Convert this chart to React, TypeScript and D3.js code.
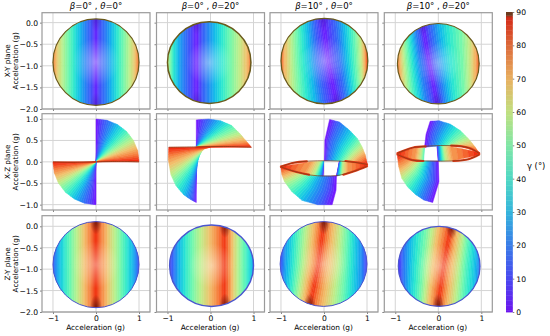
// App.tsx
import React, { useRef, useEffect } from 'react'
import * as d3 from 'd3'

// colour bar
const gammaStops = [0, 10, 20, 30, 40, 50, 60, 70, 80, 88.6, 89, 90]
const gammaColors = ['#6d14ee', '#4a48f0', '#3a7ce8', '#35b4dc', '#50d8c4', '#80e6a6', '#c0e080', '#e8b060', '#dc6a3a', '#d42a18', '#6e3a1e', '#6e3a1e']
// the clouds themselves are more saturated than the bar
const cloudColors = ['#7a10ff', '#4650fa', '#2880f5', '#14bcea', '#2ce8d0', '#70f8b0', '#bcf08c', '#f2c06c', '#f67c3c', '#f02c10', '#f02c10', '#7a3010']
const gammaTicks = [0, 10, 20, 30, 40, 50, 60, 70, 80, 90]

const betaLabels = ['0', '0', '10', '10']
const thetaLabels = ['0', '20', '0', '20']
const planeLabels = ['X-Y plane', 'X-Z plane', 'Z-Y plane']

const xTicks = [-1, 0, 1]
const yTicksDisc = [0, -0.5, -1, -1.5, -2]
const yTicksFan = [1, 0.5, 0, -0.5, -1]

// [cx, cy, rx, ry] in g
const xyDiscs = [[0, -0.915, 1, 1], [-0.03, -0.925, 0.97, 0.945], [0.01, -0.89, 1.01, 0.99], [0, -0.95, 0.95, 0.93]]
const zyDiscs = [[0, -0.895, 1, 1.005], [0.025, -0.92, 0.975, 0.95], [-0.01, -0.88, 1.01, 0.99], [0.02, -0.935, 0.95, 0.935]]
const xyRim = [1.2, 1.5, 1.2, 1.2]
const zyRim = [1, 1.4, 1, 1.2]

// how far the band moves at the top and bottom of the disc
const xyTilt = [[0, 0], [0, 0], [-0.12, 0.2], [-0.17, 0.18]]
const zyTilt = [[0, 0], [0, 0], [0.12, -0.21], [0.18, -0.13]]

// [x at mid height, gamma]
const xyStops = [
	[[-1.04, 90], [-0.97, 76], [-0.9, 68], [-0.75, 58], [-0.55, 44], [-0.35, 28], [-0.15, 14], [0, 3], [0.15, 14], [0.35, 28], [0.55, 44], [0.75, 58], [0.9, 68], [0.97, 76], [1.04, 90]],
	[[-1.04, 70], [-0.95, 55], [-0.85, 40], [-0.7, 25], [-0.5, 12], [-0.32, 2], [-0.15, 15], [0, 24], [0.2, 36], [0.45, 50], [0.7, 62], [0.88, 72], [0.96, 85], [1.04, 90]],
	[[-1.3, 90], [-1.02, 90], [-0.92, 72], [-0.75, 60], [-0.55, 46], [-0.3, 28], [-0.1, 12], [0.1, 2], [0.35, 15], [0.55, 32], [0.75, 50], [0.88, 62], [0.97, 75], [1.03, 90], [1.3, 90]],
	[[-1.3, 90], [-0.97, 85], [-0.88, 70], [-0.74, 55], [-0.58, 38], [-0.43, 22], [-0.2, 2], [0.04, 22], [0.27, 38], [0.58, 52], [0.74, 62], [0.89, 74], [0.97, 88], [1.3, 90]],
]
const zyStops = [
	[[-1.04, 5], [-0.95, 20], [-0.85, 30], [-0.7, 42], [-0.5, 56], [-0.3, 68], [-0.12, 80], [0, 88], [0.12, 80], [0.3, 68], [0.5, 56], [0.7, 42], [0.85, 30], [0.95, 20], [1.04, 5]],
	[[-1.04, 2], [-0.9, 12], [-0.74, 28], [-0.55, 42], [-0.32, 56], [-0.05, 68], [0.15, 78], [0.34, 88], [0.53, 68], [0.69, 55], [0.84, 44], [0.96, 32], [1.04, 20]],
	[[-1.3, 5], [-1.03, 8], [-0.9, 25], [-0.7, 42], [-0.5, 58], [-0.3, 72], [-0.12, 88], [0.1, 72], [0.3, 62], [0.5, 50], [0.7, 35], [0.88, 22], [1.02, 5], [1.3, 5]],
	[[-1.3, 2], [-0.95, 2], [-0.8, 18], [-0.6, 35], [-0.35, 52], [-0.15, 68], [0.13, 88], [0.3, 72], [0.48, 60], [0.65, 46], [0.82, 34], [0.97, 20], [1.3, 18]],
]

const fanGammas = [0, 15, 30, 45, 60, 75, 90]

// X-Z lobes, each row is [inner x, inner y, outer x, outer y] for one gamma of fanGammas
const xzLobes = [
	[
		[[0, 0, 0, 1], [0, 0, 0.26, 0.97], [0, 0, 0.5, 0.87], [0, 0, 0.71, 0.71], [0, 0, 0.87, 0.5], [0, 0, 0.97, 0.26], [0, 0, 1, 0]],
		[[0, 0, 0, -1], [0, 0, -0.26, -0.97], [0, 0, -0.5, -0.87], [0, 0, -0.71, -0.71], [0, 0, -0.87, -0.5], [0, 0, -0.97, -0.26], [0, 0, -1, 0]],
	],
	[
		[[-0.33, 0.34, -0.33, 0.98], [-0.33, 0.34, -0.04, 1], [-0.33, 0.34, 0.23, 0.96], [-0.33, 0.34, 0.49, 0.85], [-0.33, 0.34, 0.69, 0.65], [-0.33, 0.34, 0.84, 0.47], [-0.33, 0.34, 0.95, 0.34]],
		[[-0.33, -0.34, -0.33, -0.95], [-0.32, -0.15, -0.46, -0.88], [-0.29, 0.05, -0.62, -0.77], [-0.25, 0.16, -0.8, -0.56], [-0.19, 0.26, -0.92, -0.3], [-0.12, 0.32, -0.98, 0.05], [0, 0.34, -0.97, 0.34]],
	],
	[
		[[0.01, 0.03, 0.13, 0.99], [0.09, 0.03, 0.36, 0.93], [0.24, 0.03, 0.59, 0.74], [0.4, 0.03, 0.77, 0.55], [0.55, 0.03, 0.88, 0.36], [0.74, 0.01, 0.96, 0.16], [1, -0.05, 1, -0.03]],
		[[0.36, 0.02, 0.29, -0.33], [0.37, 0.02, 0.31, -0.33], [0.39, 0.02, 0.34, -0.32], [0.41, 0.02, 0.38, -0.31], [0.45, 0.02, 0.43, -0.3], [0.55, 0.01, 0.56, -0.27], [1, -0.05, 1, -0.11]],
		[[0.29, -0.33, 0.19, -1], [0.09, -0.33, -0.15, -1], [-0.15, -0.33, -0.51, -0.9], [-0.32, -0.31, -0.75, -0.69], [-0.5, -0.26, -0.92, -0.46], [-0.73, -0.19, -0.98, -0.29], [-1, -0.11, -1, -0.12]],
		[[-0.01, 0.01, -0.02, -0.33], [-0.01, 0.01, -0.05, -0.33], [-0.02, 0.01, -0.1, -0.33], [-0.04, 0.01, -0.17, -0.33], [-0.1, 0.01, -0.25, -0.32], [-0.3, 0.0, -0.45, -0.27], [-1, -0.11, -1, -0.12]],
	],
	[
		[[-0.32, 0.34, -0.19, 0.95], [-0.15, 0.36, 0.02, 0.96], [0.01, 0.37, 0.28, 0.88], [0.16, 0.37, 0.51, 0.73], [0.32, 0.37, 0.71, 0.53], [0.55, 0.36, 0.86, 0.34], [0.95, 0.22, 0.95, 0.2]],
		[[-0.03, 0.36, 0, 0.02], [0, 0.37, 0.02, 0.02], [0.04, 0.37, 0.06, 0.02], [0.08, 0.37, 0.11, 0.02], [0.13, 0.37, 0.18, 0.02], [0.28, 0.36, 0.34, 0.03], [0.95, 0.22, 0.95, 0.16]],
		[[0, 0.02, -0.13, -0.95], [-0.15, 0.02, -0.34, -0.89], [-0.26, 0.02, -0.53, -0.76], [-0.34, 0.02, -0.71, -0.59], [-0.46, 0.02, -0.85, -0.38], [-0.65, 0.05, -0.92, -0.11], [-0.94, 0.16, -0.95, 0.15]],
	],
]
// how much the gamma=0 edge of each lobe bows away from a straight line [dx, dy]
const xzBows = [
	[[0, 0], [0, 0]],
	[[0, 0], [0, 0]],
	[[-0.05, 0], [0, 0], [0.04, 0], [0, 0]],
	[[-0.03, 0], [0, 0], [0.08, 0]],
]
// left part of the ribbon in the last panel only runs from gamma 45 up
const xzLeftBand = [[-0.32, 0.34, -0.34, 0.02], [-0.38, 0.34, -0.42, 0.02], [-0.5, 0.33, -0.55, 0.03], [-0.94, 0.22, -0.94, 0.16]]
const xzLeftBandGammas = [45, 60, 75, 90]

// gamma=90 edges of the ribbon
const xzRidges = [
	[[[0, 0], [0.6, 0.01], [1, 0]], [[0, 0], [-0.6, -0.01], [-1, 0]]],
	[[[-0.97, 0.34], [-0.3, 0.35], [0.3, 0.36], [0.95, 0.34]]],
	[[[-1, -0.11], [-0.7, -0.02], [-0.3, 0.02], [0.3, 0.02], [0.7, -0.01], [1, -0.06]], [[-1, -0.12], [-0.7, -0.22], [-0.3, -0.31], [0, -0.33], [0.3, -0.32], [0.7, -0.22], [1, -0.1]]],
	[[[-0.95, 0.2], [-0.6, 0.33], [-0.2, 0.37], [0.3, 0.38], [0.7, 0.33], [0.95, 0.2]], [[-0.95, 0.17], [-0.6, 0.04], [-0.2, 0.02], [0.3, 0.02], [0.7, 0.06], [0.95, 0.17]]],
]
// the ribbon only turns bright red towards its two tips
const xzRedTips = [
	[],
	[],
	[[[-1, -0.11], [-0.7, -0.02], [-0.4, 0.01]], [[0.5, 0.02], [0.8, -0.02], [1, -0.06]], [[-1, -0.12], [-0.7, -0.22], [-0.35, -0.3]], [[0.45, -0.3], [0.7, -0.22], [1, -0.1]]],
	[[[-0.95, 0.2], [-0.6, 0.33], [-0.3, 0.36]], [[0.3, 0.38], [0.7, 0.33], [0.95, 0.2]], [[-0.95, 0.17], [-0.6, 0.04], [-0.35, 0.02]], [[0.35, 0.02], [0.7, 0.06], [0.95, 0.17]]],
]

const left = [42, 156.5, 270, 384.3]
const top = [12.7, 113.7, 215.7]
const panelW = 108
const panelH = 96.3
const SLICES = 5

const App = () => {
	const svgRef = useRef<SVGSVGElement>(null)

	useEffect(() => {
		const svg = d3.select(svgRef.current)
		svg.selectAll('*').remove()

		const barColor = d3.scaleLinear<string>().domain(gammaStops).range(gammaColors).clamp(true)
		const color = d3.scaleLinear<string>().domain(gammaStops).range(cloudColors).clamp(true)
		const defs = svg.append('defs')
		const wash = defs.append('radialGradient').attr('id', 'wash')
		wash.append('stop').attr('offset', 0).attr('stop-color', '#fff').attr('stop-opacity', 0.4)
		wash.append('stop').attr('offset', 0.55).attr('stop-color', '#fff').attr('stop-opacity', 0)
		;[['poleRed', '#4a1208', 0.75], ['poleBlue', '#1a1a90', 0.35]].forEach(([id, c, o]) => {
			const g = defs.append('radialGradient').attr('id', id as string)
			g.append('stop').attr('offset', 0).attr('stop-color', c as string).attr('stop-opacity', o as number)
			g.append('stop').attr('offset', 1).attr('stop-color', c as string).attr('stop-opacity', 0)
		})

		// paints the space between neighbouring rows in thin colour slices
		const drawMesh = (g: any, rows: number[][][], gammas: number[], x: any, y: any) => {
			for (let i = 0; i < rows.length - 1; i++) {
				for (let s = 0; s < SLICES; s++) {
					const t0 = s / SLICES
					const t1 = (s + 1) / SLICES
					const a = rows[i].map((p, k) => [p[0] + (rows[i + 1][k][0] - p[0]) * t0, p[1] + (rows[i + 1][k][1] - p[1]) * t0])
					const b = rows[i].map((p, k) => [p[0] + (rows[i + 1][k][0] - p[0]) * t1, p[1] + (rows[i + 1][k][1] - p[1]) * t1])
					const poly = [...a, ...b.reverse()].map(p => [x(p[0]), y(p[1])] as [number, number])
					const c = color(gammas[i] + (gammas[i + 1] - gammas[i]) * (s + 0.5) / SLICES)
					g.append('path')
						.attr('d', d3.line()(poly) + 'Z')
						.attr('fill', c)
						.attr('stroke', c)
						.attr('stroke-width', 0.5)
				}
			}
		}

		const drawDisc = (g: any, id: string, disc: number[], tilt: number[], stops: number[][], isZy: boolean, rim: number, x: any, y: any) => {
			const [cx, cy, rx, ry] = disc
			defs.append('clipPath').attr('id', id).append('ellipse')
				.attr('cx', x(cx)).attr('cy', y(cy))
				.attr('rx', x(cx + rx) - x(cx)).attr('ry', y(cy - ry) - y(cy))
			const clipped = g.append('g').attr('clip-path', `url(#${id})`)
			const yTop = cy + ry
			const yBot = cy - ry
			const peak = stops.reduce((m, s) => ((isZy ? s[1] > m[1] : s[1] < m[1]) ? s : m), stops[0])
			// the tilt only bends the band, the stripes at the rim stay put
			const bend = (v: number) => Math.max(0, 1 - Math.abs(v - peak[0]))
			const rows = stops.map(s => [[s[0] + tilt[0] * bend(s[0]), yTop], [s[0], cy], [s[0] + tilt[1] * bend(s[0]), yBot]])
			drawMesh(clipped, rows, stops.map(s => s[1]), x, y)

			clipped.append('ellipse')
				.attr('cx', x(cx)).attr('cy', y(cy))
				.attr('rx', x(cx + rx) - x(cx)).attr('ry', y(cy - ry) - y(cy))
				.attr('fill', 'url(#wash)')

			// denser points at the poles of the band
			;[[peak[0] + tilt[0], yTop], [peak[0] + tilt[1], yBot]].forEach(p => {
				clipped.append('ellipse')
					.attr('cx', x(p[0])).attr('cy', y(p[1]))
					.attr('rx', 6).attr('ry', 13)
					.attr('fill', isZy ? 'url(#poleRed)' : 'url(#poleBlue)')
			})

			g.append('ellipse')
				.attr('cx', x(cx)).attr('cy', y(cy))
				.attr('rx', x(cx + rx) - x(cx)).attr('ry', y(cy - ry) - y(cy))
				.attr('fill', 'none')
				.attr('stroke', isZy ? '#4a55d0' : '#6a5a1c')
				.attr('stroke-width', rim)
		}

		planeLabels.forEach((plane, r) => {
			const yDomain = r === 1 ? [-1.125, 1.125] : r === 0 ? [-2, 0.23] : [-2, 0.247]
			const y = d3.scaleLinear().domain(yDomain).range([top[r] + panelH, top[r]])
			const yTicks = r === 1 ? yTicksFan : yTicksDisc

			left.forEach((l, c) => {
				const x = d3.scaleLinear().domain([-1.255, 1.255]).range([l, l + panelW])
				const g = svg.append('g')

				// grid
				g.selectAll('.gx').data(xTicks).enter().append('line')
					.attr('x1', d => x(d)).attr('x2', d => x(d))
					.attr('y1', top[r]).attr('y2', top[r] + panelH)
					.attr('stroke', '#d4d4d4').attr('stroke-width', 1)
				g.selectAll('.gy').data(yTicks).enter().append('line')
					.attr('y1', d => y(d)).attr('y2', d => y(d))
					.attr('x1', l).attr('x2', l + panelW)
					.attr('stroke', '#d4d4d4').attr('stroke-width', 1)

				if (r === 0) drawDisc(g, `xy${c}`, xyDiscs[c], xyTilt[c], xyStops[c], false, xyRim[c], x, y)
				if (r === 2) drawDisc(g, `zy${c}`, zyDiscs[c], zyTilt[c], zyStops[c], true, zyRim[c], x, y)
				if (r === 1) {
					xzLobes[c].forEach((lobe, k) => {
						const bow = xzBows[c][k]
						const rows = lobe.map((q, i) => {
							const w = 1 - fanGammas[i] / 90
							return [
								[q[0], q[1]],
								[(q[0] + q[2]) / 2 + bow[0] * w, (q[1] + q[3]) / 2 + bow[1] * w],
								[q[2], q[3]],
							]
						})
						drawMesh(g, rows, fanGammas, x, y)
					})
					if (c === 3) {
						drawMesh(g, xzLeftBand.map(q => [[q[0], q[1]], [q[2], q[3]]]), xzLeftBandGammas, x, y)
					}
					const line = d3.line<number[]>().x(p => x(p[0])).y(p => y(p[1])).curve(d3.curveCatmullRom)
					xzRedTips[c].forEach(tip => {
						g.append('path').attr('d', line(tip)).attr('fill', 'none')
							.attr('stroke', '#e43a18').attr('stroke-width', 2.2).attr('stroke-linecap', 'round')
					})
					xzRidges[c].forEach(ridge => {
						g.append('path').attr('d', line(ridge)).attr('fill', 'none')
							.attr('stroke', '#7a3a14').attr('stroke-width', 0.7)
					})
				}

				// axes
				const xAxis = d3.axisBottom(x).tickValues(xTicks).tickSize(2).tickPadding(2)
					.tickFormat(r === 2 ? (d => d3.format('d')(d as number).replace('-', '\u2212')) : () => '')
				const yAxis = d3.axisLeft(y).tickValues(yTicks).tickSize(2).tickPadding(2)
					.tickFormat(c === 0 ? (d => d3.format('.1f')(d as number).replace('-', '\u2212')) : () => '')
				const ax = g.append('g').attr('transform', `translate(0, ${top[r] + panelH})`).call(xAxis)
				const ay = g.append('g').attr('transform', `translate(${l}, 0)`).call(yAxis)
				;[ax, ay].forEach(a => {
					a.select('.domain').remove()
					a.selectAll('line').attr('stroke', '#333').attr('stroke-width', 0.6)
					a.selectAll('text').attr('font-size', 7.6).attr('font-family', 'DejaVu Sans').attr('fill', '#000')
				})

				g.append('rect')
					.attr('x', l).attr('y', top[r]).attr('width', panelW).attr('height', panelH)
					.attr('fill', 'none').attr('stroke', '#9a9a9a').attr('stroke-width', 1.2)

				if (r === 0) {
					const title = g.append('text')
						.attr('x', l + panelW / 2).attr('y', 9).attr('text-anchor', 'middle')
						.attr('font-size', 8.5).attr('font-family', 'DejaVu Sans').attr('fill', '#000')
					title.append('tspan').attr('font-style', 'italic').text('\u03b2')
					title.append('tspan').text(`=${betaLabels[c]}\u00b0 , `)
					title.append('tspan').attr('font-style', 'italic').text('\u03b8')
					title.append('tspan').text(`=${thetaLabels[c]}\u00b0`)
				}
				if (r === 2) {
					g.append('text')
						.attr('x', l + panelW / 2 - 0.5).attr('y', 330).attr('text-anchor', 'middle')
						.attr('font-size', 7.4).attr('font-family', 'DejaVu Sans').attr('fill', '#000')
						.text('Acceleration (g)')
				}
			})

			// row labels
			const cy = top[r] + panelH / 2
			const labels = svg.append('g').attr('transform', `translate(9.5, ${cy}) rotate(-90)`)
				.attr('font-size', 7.2).attr('font-family', 'DejaVu Sans').attr('fill', '#000').attr('text-anchor', 'middle')
			labels.append('text').attr('x', 0).attr('y', 0).text(plane)
			labels.append('text').attr('x', 0).attr('y', 8).text('Acceleration (g)')
		})

		// colour bar
		const barY = d3.scaleLinear().domain([0, 90]).range([312, 12])
		const bar = svg.append('g')
		d3.range(0, 90, 0.5).forEach(v => {
			bar.append('rect')
				.attr('x', 506).attr('width', 6.8)
				.attr('y', barY(v + 0.5)).attr('height', barY(v) - barY(v + 0.5) + 0.4)
				.attr('fill', barColor(v + 0.25))
		})
		const barAxis = svg.append('g').attr('transform', 'translate(512.8, 0)')
			.call(d3.axisRight(barY).tickValues(gammaTicks).tickSize(1.5).tickPadding(2))
		barAxis.select('.domain').remove()
		barAxis.selectAll('line').attr('stroke', '#333').attr('stroke-width', 0.6)
		barAxis.selectAll('text').attr('font-size', 7.6).attr('font-family', 'DejaVu Sans').attr('fill', '#000')

		svg.append('text').attr('x', 527).attr('y', 169)
			.attr('font-size', 8.4).attr('font-family', 'DejaVu Sans').attr('fill', '#000')
			.text('\u03b3 (\u00b0)')
	}, [])

	return <svg ref={svgRef} width={550} height={336} style={{ position: 'absolute', left: 0, top: 0, background: '#fff' }}></svg>
}

export default App
